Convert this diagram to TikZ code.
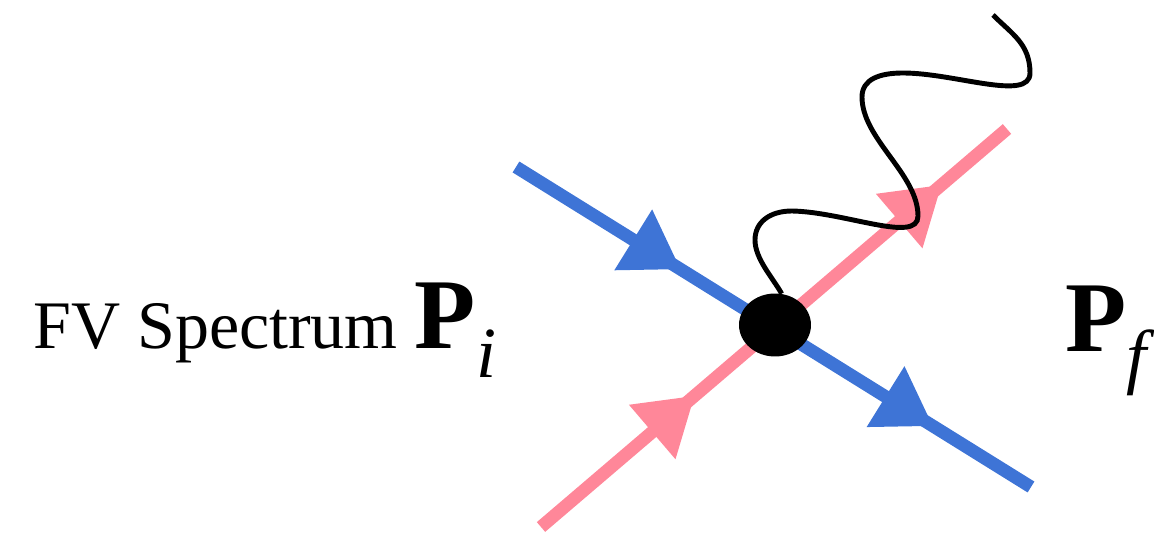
\documentclass[tikz,border=0pt]{standalone}
\usepackage{fontspec}
\setmainfont{Liberation Serif}
\usepackage{xcolor}
\usetikzlibrary{shapes.geometric,arrows.meta,decorations.markings}
\definecolor{FVblue}{HTML}{3E74D6}
\definecolor{FVpink}{HTML}{FF8799}
\newcommand{\momlabel}[1]{{\fontsize{57}{60}\selectfont\bfseries P}\raisebox{-16pt}{\fontsize{41}{41}\selectfont\itshape #1}}

\begin{document}
\begin{tikzpicture}[x=0.02cm, y=0.02cm,
        fermion/.style n args={3}{draw=#1, line width=7.3pt, postaction={decorate},
                    decoration={markings,
                      mark=at position #2 with {\arrow{Triangle[length=1.12cm, width=1.36cm]}},
                      mark=at position #3 with {\arrow{Triangle[length=1.12cm, width=1.36cm]}}}},
        photon/.style={draw=black, line width=2.8pt},
        vertex/.style={ellipse, fill=black, minimum width=1.44cm, minimum height=1.26cm, inner sep=0pt},
      ]
      \useasboundingbox (0,0) rectangle (1154,534);
      \coordinate (bluein)  at (516,367);
      \coordinate (blueout) at (1031,47);
      \coordinate (pinkin)  at (541,7);
      \coordinate (pinkout) at (1007,405);
      \coordinate (phend)   at (993,519);
      \draw[fermion={FVblue}{0.32}{0.81}] (bluein) -- (blueout);
      \draw[fermion={FVpink}{0.33}{0.86}] (pinkin) -- (pinkout);
      \node[vertex] (vtx) at (775,209) {};
      \draw[photon] (vtx.78) .. controls (773,256) and (755,275) .. (755,294)
        .. controls (755,312) and (770,323) .. (792,323)
        .. controls (845,322) and (918,290) .. (918,318)
        .. controls (918,360) and (862,395) .. (862,437)
        .. controls (862,455) and (880,461) .. (903,461)
        .. controls (955,461) and (1030,432) .. (1030,461)
        .. controls (1030,490) and (1012,500) .. (phend);
      \node[anchor=base west, inner sep=0pt] (pin) at (33,185)
        {\fontsize{38.7}{40}\selectfont FV Spectrum \momlabel{i}};
      \node[anchor=base west, inner sep=0pt] (pout) at (1065,182) {\momlabel{f}};
    \end{tikzpicture}
\end{document}
